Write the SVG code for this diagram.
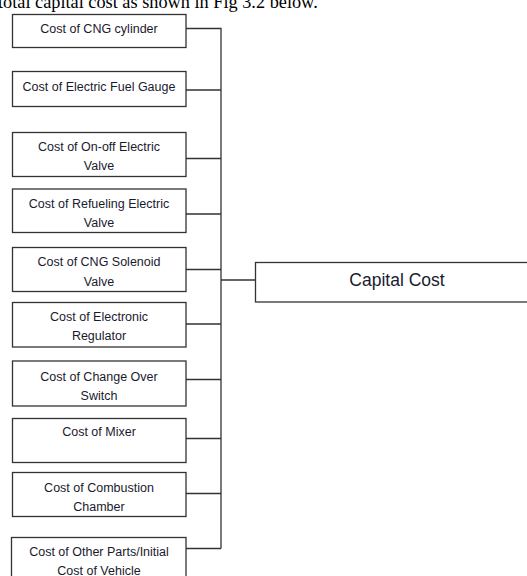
<svg xmlns="http://www.w3.org/2000/svg" width="527" height="576" viewBox="0 0 527 576">
<style>
.box{fill:#fff;stroke:#333;stroke-width:1.3}
.t{font-family:"Liberation Sans","Open Sans",sans-serif;font-size:12.5px;fill:#1a1a2e;text-anchor:middle}
.big{font-family:"Liberation Sans","Open Sans",sans-serif;font-size:17.5px;fill:#1a1a2e;text-anchor:middle}
.c{fill:none;stroke:#333;stroke-width:1.3}
.cap{font-family:"Liberation Serif","Times New Roman",serif;font-size:18.3px;fill:#000}
</style>
<rect width="527" height="576" fill="#fff"/>
<text class="cap" x="-2" y="8">total capital cost as shown in Fig 3.2 below.</text>
<g id="connectors">
<path class="c" d="M186 28.5H221V548.5M186 90H221M186 158.5H221M186 214H221M186 269.5H221M221 280H255M186 324H221M186 379.5H221M186 438.5H221M186 493.5H221M186 548.5H221"/>
</g>
<g id="n1"><rect class="box" x="12.5" y="14.5" width="173.5" height="33"/><text class="t" x="99" y="32.5">Cost of CNG cylinder</text></g>
<g id="n2"><rect class="box" x="12.5" y="71.5" width="173.5" height="35"/><text class="t" x="99" y="91">Cost of Electric Fuel Gauge</text></g>
<g id="n3"><rect class="box" x="12.5" y="132.5" width="173.5" height="44"/><text class="t" x="99" y="150.5">Cost of On-off Electric</text><text class="t" x="99" y="169.5">Valve</text></g>
<g id="n4"><rect class="box" x="12.5" y="189" width="173.5" height="43.5"/><text class="t" x="99" y="208">Cost of Refueling Electric</text><text class="t" x="99" y="227">Valve</text></g>
<g id="n5"><rect class="box" x="12.5" y="247.5" width="173.5" height="44"/><text class="t" x="99" y="266">Cost of CNG Solenoid</text><text class="t" x="99" y="285.5">Valve</text></g>
<g id="n6"><rect class="box" x="12.5" y="302.5" width="173.5" height="44.5"/><text class="t" x="99" y="321">Cost of Electronic</text><text class="t" x="99" y="340">Regulator</text></g>
<g id="n7"><rect class="box" x="12.5" y="361" width="173.5" height="45"/><text class="t" x="99" y="380.5">Cost of Change Over</text><text class="t" x="99" y="399.5">Switch</text></g>
<g id="n8"><rect class="box" x="12.5" y="418.5" width="173.5" height="44"/><text class="t" x="99" y="436">Cost of Mixer</text></g>
<g id="n9"><rect class="box" x="12.5" y="472.5" width="173.5" height="44"/><text class="t" x="99" y="492">Cost of Combustion</text><text class="t" x="99" y="511">Chamber</text></g>
<g id="n10"><rect class="box" x="11.5" y="537.5" width="174.5" height="45"/><text class="t" x="99" y="555.5">Cost of Other Parts/Initial</text><text class="t" x="99" y="574.5">Cost of Vehicle</text></g>
<g id="capital"><rect class="box" x="255.5" y="262.5" width="275" height="39.5"/><text class="big" x="397" y="286">Capital Cost</text></g>
</svg>
